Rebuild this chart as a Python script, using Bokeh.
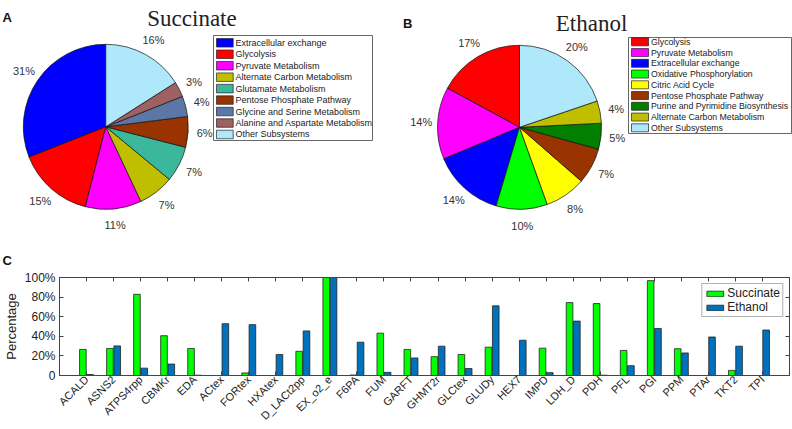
import math
from bokeh.plotting import figure
from bokeh.models import (Range1d, LinearAxis, FixedTicker, Legend, LegendItem,
                          ColumnDataSource)
from bokeh.transform import dodge
from bokeh.embed import file_html
from bokeh.resources import INLINE
from bokeh.core.properties import value

# ---------------- data ----------------
succ_title = "Succinate"
succ_names = ["Extracellular exchange", "Glycolysis", "Pyruvate Metabolism",
              "Alternate Carbon Metabolism", "Glutamate Metabolism",
              "Pentose Phosphate Pathway", "Glycine and Serine Metabolism",
              "Alanine and Aspartate Metabolism", "Other Subsystems"]
succ_pct = [31, 15, 11, 7, 7, 6, 4, 3, 16]
succ_colors = ["#0000FF", "#FF0000", "#FF00FF", "#BFBF00", "#3BB89B",
               "#993300", "#5B77A8", "#9E6060", "#AEE8FA"]

eth_title = "Ethanol"
eth_names = ["Glycolysis", "Pyruvate Metabolism", "Extracellular exchange",
             "Oxidative Phosphorylation", "Citric Acid Cycle",
             "Pentose Phosphate Pathway", "Purine and Pyrimidine Biosynthesis",
             "Alternate Carbon Metabolism", "Other Subsystems"]
eth_pct = [17.1, 14.2, 14.1, 10.1, 8.1, 7.1, 5.1, 4.4, 19.8]
eth_colors = ["#FF0000", "#FF00FF", "#0000FF", "#00FF00", "#FFFF00",
              "#993300", "#007F00", "#BFBF00", "#AEE8FA"]

reactions = ["ACALD", "ASNS2", "ATPS4rpp", "CBMKr", "EDA", "ACtex", "FORtex",
             "HXAtex", "D_LACt2pp", "EX_o2_e", "F6PA", "FUM", "GARFT", "GHMT2r",
             "GLCtex", "GLUDy", "HEX7", "IMPD", "LDH_D", "PDH", "PFL", "PGI",
             "PPM", "PTAr", "TKT2", "TPI"]
succinate_vals = [26.6, 27.6, 82.8, 40.6, 27.6, 0.0, 2.6, 0.0, 24.7, 100.0, 0.5, 43.2,
                  26.6, 19.2, 21.4, 28.9, 0.0, 27.9, 74.4, 73.4, 25.6, 96.8,
                  27.3, 0.0, 5.2, 0.0]
ethanol_vals = [1.0, 30.2, 7.5, 11.7, 0.3, 52.9, 51.9, 21.4, 45.5, 100.0, 34.0, 3.2,
                17.9, 29.9, 7.1, 71.1, 36.0, 2.9, 55.5, 0.3, 10.0, 48.0,
                23.0, 39.3, 29.9, 46.4]
y_ticks = [0, 20, 40, 60, 80, 100]
y_tick_labels = ["0", "20%", "40%", "60%", "80%", "100%"]
series_names = ["Succinate", "Ethanol"]
series_colors = ["#00FF00", "#0072BD"]

FONT = value("Liberation Sans")
SERIF = value("Liberation Serif")
PAGE_W = 792
PAGE_H = 429
TOP_H = 268


def Y(py):
    return PAGE_H - py


# ---------------- top figure: pies ----------------
p1 = figure(width=PAGE_W, height=TOP_H, x_range=Range1d(0, PAGE_W),
            y_range=Range1d(Y(TOP_H), Y(0)), output_backend="svg",
            toolbar_location=None, x_axis_location=None, y_axis_location=None,
            min_border=0, outline_line_color=None)
p1.xgrid.visible = False
p1.ygrid.visible = False


def draw_pie(p, cx, cy, R, pcts, colors):
    total = float(sum(pcts))
    starts, ends, mids = [], [], []
    a = math.pi / 2
    for v in pcts:
        b = a + 2 * math.pi * v / total
        starts.append(a)
        ends.append(b)
        mids.append((a + b) / 2)
        a = b
    src = ColumnDataSource(dict(start=starts, end=ends, color=colors))
    p.wedge(x=cx, y=Y(cy), radius=R, start_angle="start", end_angle="end",
            fill_color="color", line_color="#111111", line_width=0.7, source=src)
    rl = 1.2 * R
    lx = [cx + rl * math.cos(m) for m in mids]
    ly = [Y(cy) + rl * math.sin(m) for m in mids]
    labels = ["%d%%" % round(100 * v / total) for v in pcts]
    p.text(x=lx, y=ly, text=labels, text_align="center", text_baseline="middle",
           text_font=FONT, text_font_size="11px", text_color="#333333")


def draw_legend(p, left, right, top, bottom, row0, pitch, sw_left, sw_w, sw_h,
                text_x, fsize, names, colors):
    p.quad(left=left, right=right, top=Y(top), bottom=Y(bottom),
           fill_color="white", line_color="#666666", line_width=1)
    ys = [Y(row0 + i * pitch) for i in range(len(names))]
    p.rect(x=[sw_left + sw_w / 2] * len(names), y=ys, width=sw_w, height=sw_h,
           fill_color=colors, line_color="#222222", line_width=0.7)
    p.text(x=[text_x] * len(names), y=ys, text=names, text_align="left",
           text_baseline="middle", text_font=FONT, text_font_size=fsize,
           text_color="#222222")


draw_pie(p1, 105.3, 126.3, 82.5, succ_pct, succ_colors)
draw_pie(p1, 519.0, 126.8, 82.0, eth_pct, eth_colors)

draw_legend(p1, 213, 372, 35, 140, 42.3, 11.46, 216, 16.7, 8.5, 235, "9px",
            succ_names, succ_colors)
draw_legend(p1, 628, 791, 37, 133, 41.3, 10.75, 631, 17, 8, 650.5, "8.75px",
            eth_names, eth_colors)

p1.text(x=[191.5], y=[Y(17.5)], text=[succ_title], text_align="center",
        text_baseline="alphabetic", text_font=SERIF, text_font_size="23px",
        text_color="#222222")
p1.text(x=[591], y=[Y(22.7)], text=[eth_title], text_align="center",
        text_baseline="alphabetic", text_font=SERIF, text_font_size="23px",
        text_color="#222222")
p1.text(x=[2, 402.5, 2], y=[Y(17.3), Y(22.7), Y(259.5)], text=["A", "B", "C"],
        text_align="left", text_baseline="alphabetic", text_font=FONT,
        text_font_size="13px", text_font_style="bold", text_color="#111111")

# ---------------- bottom figure: bars ----------------
n = len(reactions)
p2 = figure(width=PAGE_W, height=PAGE_H - TOP_H, x_range=Range1d(0, n + 1),
            y_range=Range1d(0, 100), output_backend="svg", toolbar_location=None,
            min_border_left=55, min_border_right=3, min_border_top=9,
            min_border_bottom=50, outline_line_color="#444444")
p2.xgrid.visible = False
p2.ygrid.visible = False

src = ColumnDataSource(dict(x=list(range(1, n + 1)), s=succinate_vals,
                            e=ethanol_vals))
r_s = p2.vbar(x=dodge("x", -0.135, range=p2.x_range), top="s", width=0.245,
              source=src, fill_color=series_colors[0], line_color="#222222",
              line_width=0.8)
r_e = p2.vbar(x=dodge("x", 0.135, range=p2.x_range), top="e", width=0.245,
              source=src, fill_color=series_colors[1], line_color="#222222",
              line_width=0.8)

xt = FixedTicker(ticks=list(range(1, n + 1)))
yt = FixedTicker(ticks=y_ticks)

xa = p2.xaxis[0]
xa.ticker = xt
xa.major_label_overrides = {i + 1: name for i, name in enumerate(reactions)}
xa.major_label_orientation = math.pi / 4
xa.major_label_text_font = "Liberation Sans"
xa.major_label_text_font_size = "11px"
xa.major_label_text_color = "#222222"
xa.major_label_standoff = 2
xa.major_tick_in = 4
xa.major_tick_out = 0
xa.minor_tick_line_color = None
xa.axis_line_color = "#444444"
xa.major_tick_line_color = "#444444"

ya = p2.yaxis[0]
ya.ticker = yt
ya.major_label_overrides = {t: l for t, l in zip(y_ticks, y_tick_labels)}
ya.major_label_text_font = "Liberation Sans"
ya.major_label_text_font_size = "12px"
ya.major_label_text_color = "#222222"
ya.major_label_standoff = 4
ya.major_tick_in = 4
ya.major_tick_out = 0
ya.minor_tick_line_color = None
ya.axis_line_color = "#444444"
ya.major_tick_line_color = "#444444"
ya.axis_label = "Percentage"
ya.axis_label_text_font = "Liberation Sans"
ya.axis_label_text_font_size = "13px"
ya.axis_label_text_font_style = "normal"
ya.axis_label_text_color = "#222222"
ya.axis_label_standoff = 3

top_ax = LinearAxis(ticker=xt, major_label_overrides={i + 1: "" for i in range(n)},
                    major_label_text_font_size="0px", major_label_standoff=0,
                    major_tick_in=4, major_tick_out=0, minor_tick_line_color=None,
                    axis_line_color="#444444", major_tick_line_color="#444444")
right_ax = LinearAxis(ticker=yt, major_label_overrides={t: "" for t in y_ticks},
                      major_label_text_font_size="0px", major_label_standoff=0,
                      major_tick_in=4, major_tick_out=0, minor_tick_line_color=None,
                      axis_line_color="#444444", major_tick_line_color="#444444")
p2.add_layout(top_ax, "above")
p2.add_layout(right_ax, "right")

legend = Legend(items=[LegendItem(label=series_names[0], renderers=[r_s]),
                       LegendItem(label=series_names[1], renderers=[r_e])],
                location="top_right", orientation="vertical",
                label_text_font="Liberation Sans", label_text_font_size="12px",
                label_text_color="#222222", label_text_line_height=0.9,
                glyph_width=21, glyph_height=7,
                label_height=10, label_standoff=2, spacing=-2, padding=2,
                margin=6, border_line_color="#666666", border_line_width=1,
                background_fill_color="white", background_fill_alpha=1.0)
p2.add_layout(legend, "center")

with open("out.html", "w") as f:
    f.write(file_html([p1, p2], INLINE))
